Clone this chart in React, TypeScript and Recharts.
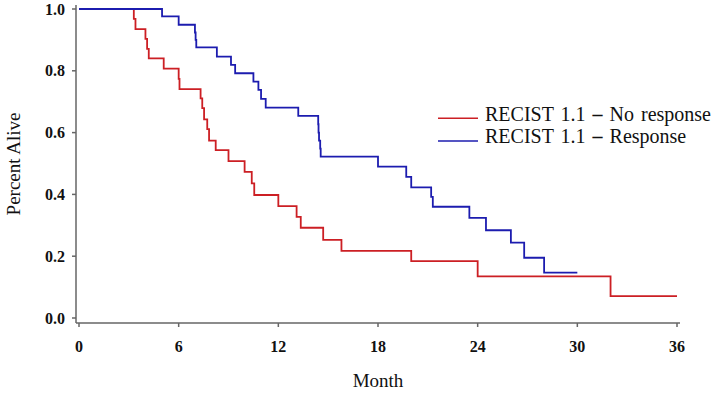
import { Label, Legend, Line, LineChart, XAxis, YAxis } from 'recharts';

const monthTicks = [0, 6, 12, 18, 24, 30, 36];
const survivalTicks = [0, 0.2, 0.4, 0.6, 0.8, 1.0];

// RECIST 1.1 - No response
const noResponseMonths = [0, 3.3, 3.4, 4.0, 4.1, 4.2, 5.1, 6.0, 6.05, 7.32, 7.42, 7.53, 7.72, 7.83, 8.23, 9.0, 9.97, 10.4, 10.55, 12.0, 13.1, 13.35, 14.7, 15.8, 20.0, 24.0, 32.0, 36.0];
const noResponseSurvival = [1, 0.968, 0.935, 0.903, 0.871, 0.84, 0.807, 0.774, 0.741, 0.711, 0.679, 0.643, 0.611, 0.574, 0.543, 0.508, 0.473, 0.436, 0.398, 0.362, 0.327, 0.292, 0.253, 0.217, 0.184, 0.135, 0.071, 0.071];

// RECIST 1.1 - Response
const responseMonths = [0, 5.0, 6.0, 6.98, 7.02, 7.06, 8.3, 9.15, 9.4, 10.5, 10.8, 10.96, 11.24, 13.2, 14.4, 14.42, 14.45, 14.52, 14.55, 18.0, 19.7, 20.0, 21.2, 21.3, 23.5, 24.5, 26.0, 26.8, 28.0, 30.0];
const responseSurvival = [1, 0.976, 0.949, 0.924, 0.9, 0.876, 0.846, 0.819, 0.792, 0.765, 0.738, 0.709, 0.681, 0.654, 0.627, 0.6, 0.574, 0.548, 0.522, 0.49, 0.457, 0.423, 0.392, 0.36, 0.324, 0.284, 0.244, 0.195, 0.147, 0.147];

const series = [
  { label: 'RECIST 1.1', group: 'No response', color: '#cc1f24', months: noResponseMonths, survival: noResponseSurvival },
  { label: 'RECIST 1.1', group: 'Response', color: '#1c1caf', months: responseMonths, survival: responseSurvival },
];

const FONT = '"Liberation Serif", "DejaVu Serif", serif';
const AXIS = '#666';

const toRows = (months: number[], survival: number[]) =>
  months.map((month, i) => ({ month, survival: survival[i] }));

function KmLegend() {
  return (
    <svg width={280} height={52} style={{ display: 'block' }}>
      {series.map((s, i) => (
        <g key={s.group} transform={`translate(0, ${i * 22.7})`}>
          <line x1={2} x2={42} y1={18.3} y2={18.3} stroke={s.color} strokeWidth={1.5} />
          <text x={49} y={20.8} fontFamily={FONT} fontSize={20} fill="#111" wordSpacing={2}>
            {s.label} <tspan fontWeight={700}>–</tspan> {s.group}
          </text>
        </g>
      ))}
    </svg>
  );
}

export default function App() {
  return (
    <div style={{ position: 'absolute', left: 0, top: 0, width: 715, height: 396, background: '#fff' }}>
      <LineChart width={715} height={396} margin={{ top: 5, right: 35, bottom: 0, left: 0 }}>
        <XAxis
          type="number"
          dataKey="month"
          domain={[0, 36]}
          ticks={monthTicks}
          padding={{ left: 3, right: 3 }}
          height={73}
          tickSize={4}
          tickMargin={14}
          stroke={AXIS}
          strokeWidth={1.5}
          tick={{ fontSize: 16, fontFamily: FONT, fontWeight: 700, fill: '#111' }}
        >
          <Label value="Month" position="insideBottom" offset={9} style={{ fontSize: 19, fontFamily: FONT, fill: '#111' }} />
        </XAxis>
        <YAxis
          type="number"
          dataKey="survival"
          domain={[0, 1]}
          ticks={survivalTicks}
          tickFormatter={(v: number) => v.toFixed(1)}
          padding={{ top: 4, bottom: 5 }}
          width={76}
          tickSize={4}
          tickMargin={7}
          stroke={AXIS}
          strokeWidth={1.5}
          tick={{ fontSize: 16, fontFamily: FONT, fontWeight: 700, fill: '#111' }}
        >
          <Label
            value="Percent Alive"
            angle={-90}
            position="insideLeft"
            offset={13}
            style={{ textAnchor: 'middle', fontSize: 19, fontFamily: FONT, fill: '#111' }}
          />
        </YAxis>
        <Legend
          layout="vertical"
          align="center"
          verticalAlign="middle"
          wrapperStyle={{ left: 436, top: 100, width: 280 }}
          content={() => <KmLegend />}
        />
        {series.map((s) => (
          <Line
            key={s.group}
            name={`${s.label} – ${s.group}`}
            data={toRows(s.months, s.survival)}
            dataKey="survival"
            type="stepAfter"
            stroke={s.color}
            strokeWidth={1.8}
            dot={false}
            activeDot={false}
            isAnimationActive={false}
          />
        ))}
      </LineChart>
    </div>
  );
}
